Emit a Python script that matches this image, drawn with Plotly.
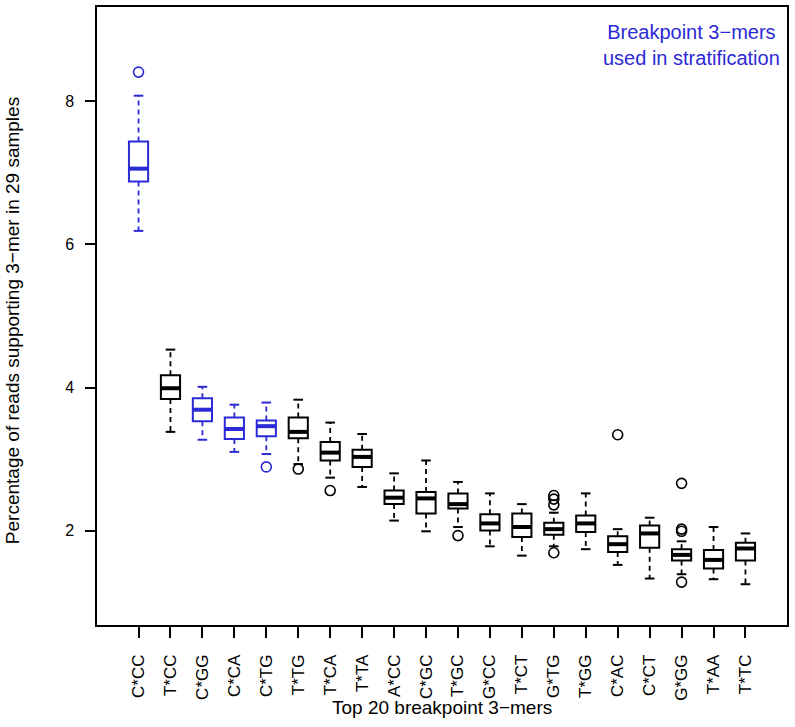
import plotly.graph_objects as go

# ---- data ----
kmers = ["C*CC", "T*CC", "C*GG", "C*CA", "C*TG", "T*TG", "T*CA", "T*TA", "A*CC", "C*GC",
         "T*GC", "G*CC", "T*CT", "G*TG", "T*GG", "C*AC", "C*CT", "G*GG", "T*AA", "T*TC"]
stratification_kmers = ["C*CC", "C*GG", "C*CA", "C*TG"]

lower_whisker = [6.19, 3.38, 3.27, 3.10, 3.07, 2.93, 2.74, 2.61, 2.14, 1.99,
                 2.05, 1.78, 1.65, 1.78, 1.74, 1.52, 1.33, 1.39, 1.32, 1.25]
q1 = [6.88, 3.84, 3.53, 3.28, 3.32, 3.29, 2.98, 2.89, 2.37, 2.24,
      2.31, 2.00, 1.91, 1.94, 1.98, 1.70, 1.76, 1.58, 1.47, 1.58]
median = [7.06, 3.99, 3.69, 3.42, 3.46, 3.38, 3.09, 3.03, 2.46, 2.45,
          2.37, 2.10, 2.05, 2.02, 2.10, 1.81, 1.96, 1.66, 1.59, 1.75]
q3 = [7.44, 4.17, 3.85, 3.58, 3.54, 3.58, 3.24, 3.13, 2.56, 2.54,
      2.52, 2.23, 2.24, 2.11, 2.21, 1.92, 2.07, 1.74, 1.73, 1.83]
upper_whisker = [8.08, 4.53, 4.01, 3.76, 3.79, 3.83, 3.51, 3.35, 2.80, 2.98,
                 2.68, 2.52, 2.37, 2.25, 2.52, 2.02, 2.18, 1.85, 2.05, 1.96]
outliers = [[8.41], [], [], [], [2.89], [2.86], [2.56], [], [], [],
            [1.93], [], [], [2.49, 2.44, 2.36, 1.69], [], [3.34], [], [2.66, 2.02, 1.99, 1.28], [], []]

y_ticks = [2, 4, 6, 8]

# ---- styling ----
BLUE = "#2a2ad6"
BLACK = "#000000"
FONT = "Liberation Sans, Arial, Helvetica, sans-serif"
BOX_W = 0.6
CAP_W = 0.3

fig = go.Figure()
positions = list(range(1, len(kmers) + 1))

for color in (BLACK, BLUE):
    idx = [i for i, k in enumerate(kmers) if (k in stratification_kmers) == (color == BLUE)]
    wx, wy, cx, cy, mx, my, ox, oy = [], [], [], [], [], [], [], []
    for i in idx:
        p = positions[i]
        wx += [p, p, None, p, p, None]
        wy += [q3[i], upper_whisker[i], None, q1[i], lower_whisker[i], None]
        cx += [p - CAP_W / 2, p + CAP_W / 2, None, p - CAP_W / 2, p + CAP_W / 2, None]
        cy += [upper_whisker[i], upper_whisker[i], None, lower_whisker[i], lower_whisker[i], None]
        mx += [p - BOX_W / 2, p + BOX_W / 2, None]
        my += [median[i], median[i], None]
        for v in outliers[i]:
            ox.append(p)
            oy.append(v)
    fig.add_trace(go.Scatter(x=wx, y=wy, mode="lines", showlegend=False, hoverinfo="skip",
                             line=dict(color=color, width=1.8, dash="5px,4px")))
    fig.add_trace(go.Scatter(x=cx, y=cy, mode="lines", showlegend=False, hoverinfo="skip",
                             line=dict(color=color, width=2)))
    for i in idx:
        fig.add_trace(go.Box(x=[positions[i]], q1=[q1[i]], median=[median[i]], q3=[q3[i]],
                             lowerfence=[q1[i]], upperfence=[q3[i]], width=BOX_W,
                             boxpoints=False, whiskerwidth=0, showlegend=False,
                             fillcolor="white", line=dict(color=color, width=2)))
    fig.add_trace(go.Scatter(x=mx, y=my, mode="lines", showlegend=False, hoverinfo="skip",
                             line=dict(color=color, width=4)))
    fig.add_trace(go.Scatter(x=ox, y=oy, mode="markers", showlegend=False,
                             marker=dict(symbol="circle-open", size=10, color=color,
                                         line=dict(color=color, width=1.6))))

fig.update_layout(
    width=795, height=727,
    margin=dict(l=97, r=8, t=7, b=102, autoexpand=False),
    paper_bgcolor="white", plot_bgcolor="white",
    font=dict(family=FONT, color="black"),
    showlegend=False,
    xaxis=dict(range=[-0.3, 21.3], tickmode="array", tickvals=positions, ticktext=kmers,
               tickangle=-90, ticks="outside", ticklen=11, tickwidth=1.5, tickcolor="black",
               showline=True, mirror=True, linecolor="black", linewidth=1.5, automargin=False,
               showgrid=False, zeroline=False, tickfont=dict(size=17), ticklabelstandoff=10),
    yaxis=dict(range=[0.68, 9.32], tickmode="array", tickvals=y_ticks,
               ticktext=[str(t) for t in y_ticks], automargin=False,
               ticks="outside", ticklen=10, tickwidth=1.5, tickcolor="black",
               showline=True, mirror=True, linecolor="black", linewidth=1.5,
               showgrid=False, zeroline=False, tickfont=dict(size=16), ticklabelstandoff=8),
    annotations=[
        dict(text="Top 20 breakpoint 3\u2212mers", xref="paper", yref="paper",
             x=0.5, y=-0.134, xanchor="center", yanchor="middle", showarrow=False,
             font=dict(size=19)),
        dict(text="Percentage of reads supporting 3\u2212mer in 29 samples", xref="paper", yref="paper",
             x=-0.122, y=0.493, xanchor="center", yanchor="middle", textangle=-90, showarrow=False,
             font=dict(size=19)),
        dict(text="Breakpoint 3\u2212mers<br>used in stratification", xref="paper", yref="paper",
             x=0.862, y=0.9385, xanchor="center", yanchor="middle", showarrow=False,
             align="center", font=dict(size=20, color=BLUE)),
    ],
)

fig.write_html("out.html", config={"displayModeBar": False},
               post_script="document.body.style.margin='0';")
